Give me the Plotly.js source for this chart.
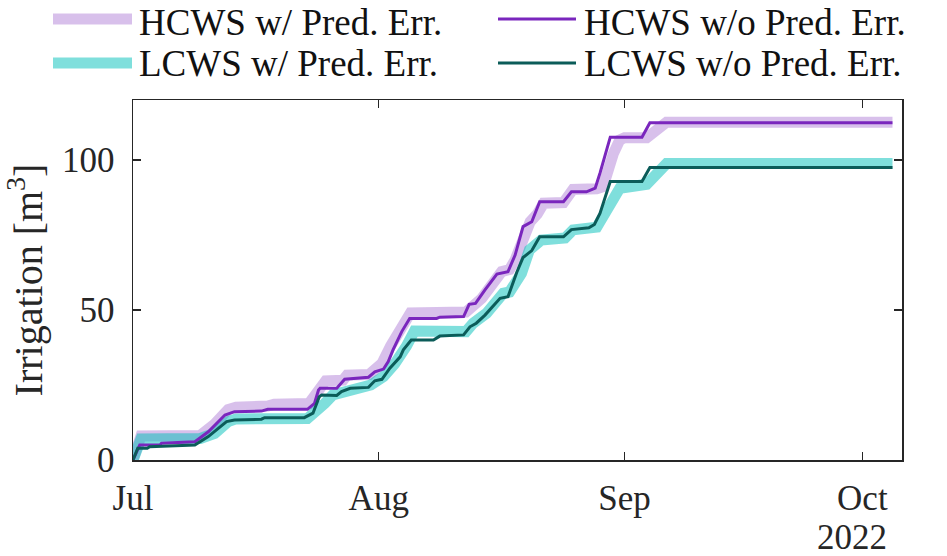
<!DOCTYPE html>
<html>
<head>
<meta charset="utf-8">
<script src="https://cdn.plot.ly/plotly-3.0.1.min.js"></script>
<style>
html,body{margin:0;padding:0;background:#fff;}
#chart{width:947px;height:556px;}
</style>
</head>
<body>
<div id="chart"></div>
<script>
// ---- data (days since 2022-07-01, cumulative irrigation in m^3) ----
const startDate = Date.UTC(2022, 6, 1);

const hcwsErrDays = [0, 1, 8.5, 10.3, 12, 13, 17, 17.8, 22.2, 23.5, 24.3, 26.5, 27, 29.8, 31.4, 32.5, 34, 35, 42, 42.8, 44, 46.5, 47.5, 48.2, 50.1, 51, 51.8, 54.3, 55.5, 58.5, 59.3, 60.6, 61.4, 62, 64.8, 67.3, 95.8];
const hcwsErrVals = [0, 8, 8.2, 12, 16.8, 17.6, 18, 18.6, 18.8, 23.5, 26.4, 26.6, 28.3, 28.5, 32.2, 38, 45, 49, 49.3, 51, 53.9, 62.8, 63.5, 66.7, 79.4, 82, 85.6, 85.8, 90.2, 90.4, 91.1, 102.2, 106.7, 107.4, 107.4, 112.6, 112.6];

const hcwsDays = [0, 0.85, 3.4, 3.6, 7.8, 9.5, 11.6, 12.8, 16.2, 17, 22, 22.9, 23.4, 23.6, 25.7, 26.3, 26.7, 29.7, 30.5, 31.6, 32.2, 32.8, 33.9, 34.9, 38.3, 38.7, 41.7, 42.4, 43.2, 44.4, 45.9, 47.3, 48.2, 49.2, 50.3, 51.3, 54.3, 55.3, 57.2, 58.3, 58.9, 60.2, 64.2, 65.2, 95.8];
const hcwsVals = [0, 5, 5, 5.6, 6.1, 9.4, 15, 16.1, 16.3, 16.9, 16.9, 18.9, 23.3, 23.9, 23.9, 25.6, 26.9, 27.6, 29.4, 30.3, 32.8, 36.7, 42.8, 47.2, 47.2, 47.6, 47.8, 51.9, 52.2, 56.7, 62, 62.8, 68.3, 77.8, 79.4, 86.1, 86.1, 89.4, 89.4, 90.6, 95.6, 107.6, 107.6, 112.4, 112.4];

const lcwsErrDays = [0, 1, 8.5, 10.3, 12, 13, 22, 22.9, 24.2, 25.2, 27.5, 28.6, 30, 31.6, 33, 34.5, 35.5, 42, 42.9, 44.6, 45.4, 46.7, 47.5, 49, 50, 50.8, 51.5, 54.5, 55.5, 58.5, 60.2, 61.4, 64.8, 67.3, 95.8];
const lcwsErrVals = [0, 7, 7.2, 8.9, 12.8, 13.7, 13.8, 15.6, 18.9, 21.7, 23.5, 24.4, 25, 27.8, 32, 38, 43, 42.8, 45.6, 48.9, 51.1, 55.6, 56, 62.2, 70, 72.5, 73.3, 74, 76.7, 77.6, 84.4, 90.6, 91.9, 98.8, 98.8];

const lcwsDays = [0, 0.6, 1.8, 2.1, 7.8, 9.5, 11.8, 12.8, 16.2, 16.6, 21.6, 22.7, 23.5, 23.8, 25.7, 26.3, 27.4, 29.7, 30.5, 31.4, 32.4, 33.7, 34.1, 35.1, 37.9, 38.7, 41.7, 42.5, 43.3, 44.4, 46.3, 47.3, 48.4, 49.2, 50.3, 51.3, 54.3, 55.3, 57.5, 58.2, 58.9, 60.2, 64.2, 65.2, 95.8];
const lcwsVals = [0, 3.9, 3.9, 4.4, 5, 7.8, 12.8, 13.3, 13.6, 14.1, 14.1, 15.6, 21.1, 21.7, 21.5, 22.8, 23.9, 24.2, 26.4, 26.9, 30.6, 34.4, 36.7, 40, 40, 41.3, 41.7, 44.4, 45.6, 48.3, 53.9, 54.4, 62.5, 67.5, 69.8, 74.4, 74.4, 76.8, 77.4, 78.5, 82.2, 92.8, 92.8, 97.5, 97.5];

const monthTicks = ['2022-07-01', '2022-08-01', '2022-09-01', '2022-10-01'];
const monthLabels = ['Jul', 'Aug', 'Sep', 'Oct'];
const yTicks = [0, 50, 100];
const seriesNames = ['HCWS w/ Pred. Err.', 'HCWS w/o Pred. Err.', 'LCWS w/ Pred. Err.', 'LCWS w/o Pred. Err.'];
const yearLabel = '2022';
const yTitle = 'Irrigation [m<sup>3</sup>]';

// ---- helpers ----
function toDates(days) {
  return days.map(d => {
    const t = new Date(startDate + d * 86400000);
    return t.toISOString().slice(0, 19).replace('T', ' ');
  });
}

const colLightPurple = 'rgba(125,45,190,0.30)';
const colPurple = '#7a26bd';
const colCyan = 'rgba(0,192,186,0.50)';
const colTeal = '#0b5c59';
const FONT = '"Liberation Serif", "Times New Roman", serif';
const txtColor = '#262626';

const traces = [
  {x: toDates(hcwsErrDays), y: hcwsErrVals, name: seriesNames[0], mode: 'lines',
   line: {color: colLightPurple, width: 11}},
  {x: toDates(lcwsErrDays), y: lcwsErrVals, name: seriesNames[2], mode: 'lines',
   line: {color: colCyan, width: 11}},
  {x: toDates(hcwsDays), y: hcwsVals, name: seriesNames[1], mode: 'lines',
   line: {color: colPurple, width: 3}},
  {x: toDates(lcwsDays), y: lcwsVals, name: seriesNames[3], mode: 'lines',
   line: {color: colTeal, width: 3}}
];

// plot area geometry (px) for custom legend placement
const L = 133, R = 902, T = 100, B = 460;
const W = R - L, H = B - T;
const px = x => (x - L) / W;
const py = y => (B - y) / H;

const legendItems = [
  {name: seriesNames[0], color: colLightPurple, width: 11, x0: 53, x1: 132, tx: 137, y: 19, ty: 22},
  {name: seriesNames[1], color: colPurple, width: 3, x0: 498, x1: 576, tx: 582, y: 19, ty: 22},
  {name: seriesNames[2], color: colCyan, width: 11, x0: 53, x1: 132, tx: 137, y: 63, ty: 64},
  {name: seriesNames[3], color: colTeal, width: 3, x0: 498, x1: 576, tx: 582, y: 63, ty: 64}
];

const shapes = legendItems.map(it => ({
  type: 'line', xref: 'paper', yref: 'paper',
  x0: px(it.x0), x1: px(it.x1), y0: py(it.y), y1: py(it.y),
  line: {color: it.color, width: it.width}
}));

const annotations = legendItems.map(it => ({
  xref: 'paper', yref: 'paper', x: px(it.tx), y: py(it.ty),
  xanchor: 'left', yanchor: 'middle', showarrow: false,
  text: it.name, font: {family: FONT, size: 37, color: '#111'}
}));
annotations.push({
  xref: 'paper', yref: 'paper', x: px(852), y: py(537),
  xanchor: 'center', yanchor: 'middle', showarrow: false,
  text: yearLabel, font: {family: FONT, size: 35, color: txtColor}
});

const layout = {
  width: 947, height: 556,
  margin: {l: L, r: 947 - R, t: T, b: 556 - B, pad: 0},
  paper_bgcolor: '#fff', plot_bgcolor: '#fff',
  showlegend: false,
  font: {family: FONT, size: 35, color: txtColor},
  xaxis: {
    type: 'date', range: ['2022-07-01', '2022-10-06'],
    tickmode: 'array', tickvals: monthTicks, ticktext: monthLabels,
    ticks: 'inside', ticklen: 8, tickwidth: 1.2, tickcolor: txtColor,
    showline: true, linecolor: txtColor, linewidth: 1.5, mirror: 'ticks',
    showgrid: false, zeroline: false, ticklabelstandoff: 6,
    tickfont: {family: FONT, size: 35, color: txtColor}
  },
  yaxis: {
    range: [0, 120], tickmode: 'array', tickvals: yTicks,
    ticks: 'inside', ticklen: 8, tickwidth: 1.2, tickcolor: txtColor,
    showline: true, linecolor: txtColor, linewidth: 1.5, mirror: 'ticks',
    showgrid: false, zeroline: false, ticklabelstandoff: 10,
    tickfont: {family: FONT, size: 35, color: txtColor},
    title: {text: yTitle, standoff: 16, font: {family: FONT, size: 40, color: txtColor}}
  },
  shapes: shapes,
  annotations: annotations
};

Plotly.newPlot('chart', traces, layout, {displayModeBar: false, staticPlot: true});
</script>
</body>
</html>
